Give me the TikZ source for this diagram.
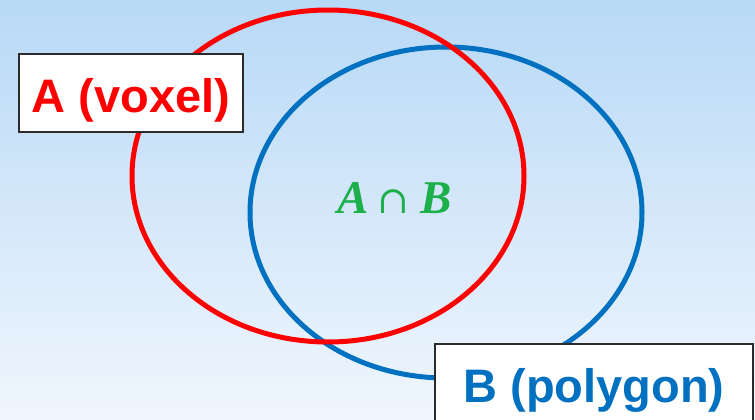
\documentclass[tikz,border=0pt]{standalone}
\usepackage{fontspec}
\usetikzlibrary{shapes.geometric}
\setmainfont{Liberation Sans}
\newfontfamily\serifgreen{Liberation Serif}
\newfontfamily\capfont{DejaVu Serif}
\definecolor{bgtop}{HTML}{B8D9F6}
\definecolor{bgbot}{HTML}{F0F6FD}
\definecolor{setred}{HTML}{FF0000}
\definecolor{setblue}{HTML}{0070C0}
\definecolor{setgreen}{HTML}{1DB04A}
\definecolor{boxborder}{HTML}{2B2B2B}
\tikzset{
  setline/.style={line width=5pt},
  labelbox/.style={draw=boxborder, line width=1.8pt, fill=white, inner sep=0pt},
  labeltext/.style={anchor=base, inner sep=0pt, font=\fontsize{47}{56}\selectfont\bfseries},
}
\begin{document}
\begin{tikzpicture}[x=1pt,y=-1pt]
\useasboundingbox (0,0) rectangle (755,420);
\shade[top color=bgtop, bottom color=bgbot] (0,0) rectangle (755,420);
\node[draw=setblue, setline, ellipse, minimum width=392, minimum height=331, inner sep=0pt] (ellB) at (446,212.5) {};
\node[draw=setred, setline, ellipse, minimum width=392, minimum height=332, inner sep=0pt] (ellA) at (328,176) {};
\node[labeltext, text=setgreen, font=\fontsize{47}{56}\selectfont\serifgreen\bfseries\itshape] (inter) at (395,213) {A\kern8pt{\capfont\mdseries\upshape\fontsize{38}{46}\selectfont ∩}\kern12pt B};
\node[labelbox, minimum width=224, minimum height=78] (boxA) at (131,93) {};
\node[labeltext, text=setred] (txtA) at (131,112) {A (voxel)};
\node[labelbox, minimum width=318, minimum height=90] (boxB) at (594,389) {};
\node[labeltext, text=setblue] (txtB) at (594,402) {B (polygon)};
\end{tikzpicture}
\end{document}
